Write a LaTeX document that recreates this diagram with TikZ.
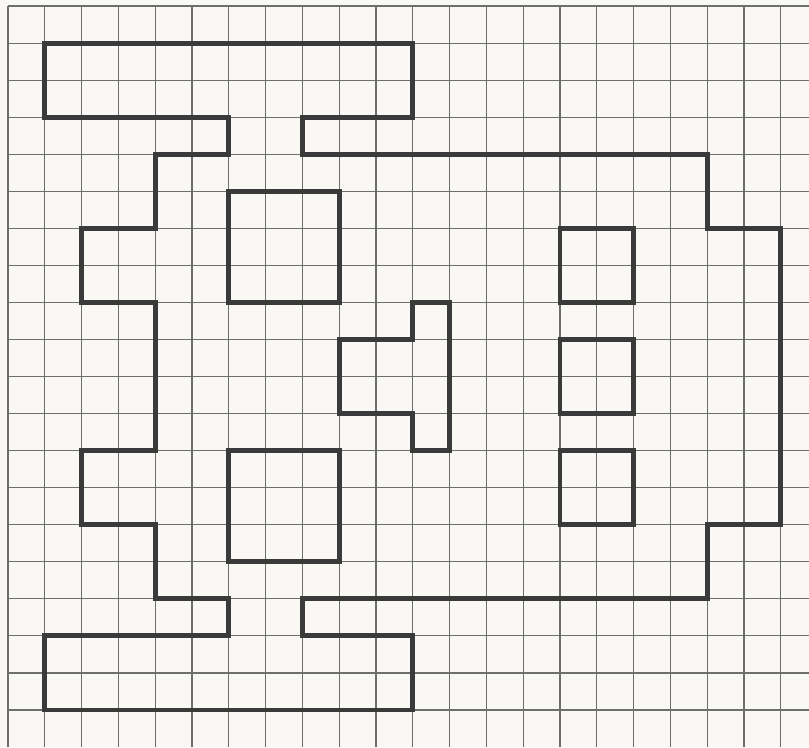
\documentclass[tikz,border=0pt]{standalone}
\definecolor{paper}{RGB}{249,248,244}
\definecolor{ink}{RGB}{58,58,58}
\definecolor{rule}{RGB}{110,110,110}
\usepackage{tikz}

\begin{document}
\begin{tikzpicture}[
  x=27.6pt, y=-27.79pt,
  gridln/.style={rule, line width=0.8pt},
  wall/.style={ink, line width=3.7pt, line join=miter},
]
\useasboundingbox[fill=paper] (-0.2174,-0.162) rectangle (21.766,20.0);
% squared paper
\foreach \i in {0,...,21} \draw[gridln] (\i,0) -- (\i,20);
\foreach \j in {0,...,19} \draw[gridln] (0,\j) -- (21.766,\j);
% outer outline
\draw[wall] (6,4) -- (6,3) -- (1,3) -- (1,1) -- (11,1) -- (11,3) -- (8,3)
  -- (8,4) -- (19,4) -- (19,6) -- (21,6) -- (21,14) -- (19,14) -- (19,16)
  -- (8,16) -- (8,17) -- (11,17) -- (11,19) -- (1,19) -- (1,17) -- (6,17)
  -- (6,16) -- (4,16) -- (4,14) -- (2,14) -- (2,12) -- (4,12) -- (4,8)
  -- (2,8) -- (2,6) -- (4,6) -- (4,4) -- cycle;
% inner squares
\draw[wall] (6,5) rectangle (9,8);
\draw[wall] (6,12) rectangle (9,15);
\foreach \r in {6,9,12} \draw[wall] (15,\r) rectangle (17,\r+2);
% middle piece
\draw[wall] (11,8) -- (12,8) -- (12,12) -- (11,12) -- (11,11) -- (9,11)
  -- (9,9) -- (11,9) -- cycle;
\end{tikzpicture}
\end{document}
